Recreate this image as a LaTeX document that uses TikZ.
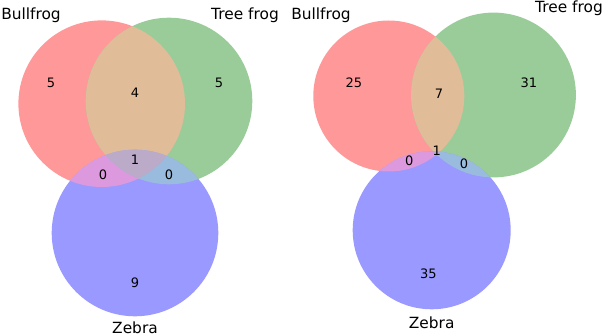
\documentclass[tikz,border=0pt]{standalone}
\usepackage{fontspec}
\setmainfont{DejaVu Sans}
\definecolor{cR}{HTML}{FF9999}
\definecolor{cG}{HTML}{99CC99}
\definecolor{cB}{HTML}{9999FF}
\definecolor{cRG}{HTML}{E0BC99}
\definecolor{cRB}{HTML}{DD99DD}
\definecolor{cGB}{HTML}{99BBDD}
\definecolor{cRGB}{HTML}{BBAAC8}
\tikzset{
  setlabel/.style={anchor=base,inner sep=0pt,font=\fontsize{15.4}{17}\selectfont},
  count/.style={anchor=base,inner sep=0pt,font=\fontsize{13}{15}\selectfont},
}
\newcommand{\venn}[9]{%
  % #1,#2 red centre; #3 red r; #4,#5 green centre; #6 green r; #7,#8 blue centre; #9 blue r
  \fill[cR] (#1,#2) circle[radius=#3];
  \fill[cG] (#4,#5) circle[radius=#6];
  \fill[cB] (#7,#8) circle[radius=#9];
  \begin{scope}\clip (#1,#2) circle[radius=#3]; \fill[cRG] (#4,#5) circle[radius=#6];\end{scope}
  \begin{scope}\clip (#1,#2) circle[radius=#3]; \fill[cRB] (#7,#8) circle[radius=#9];\end{scope}
  \begin{scope}\clip (#4,#5) circle[radius=#6]; \fill[cGB] (#7,#8) circle[radius=#9];\end{scope}
  \begin{scope}\clip (#1,#2) circle[radius=#3]; \clip (#4,#5) circle[radius=#6]; \fill[cRGB] (#7,#8) circle[radius=#9];\end{scope}
}
\begin{document}
\begin{tikzpicture}[x=1pt,y=-1pt]
\useasboundingbox (0,0) rectangle (606,336);
% left diagram
\venn{101.7}{103.7}{83.3}{169}{101}{83.3}{135}{233}{83.3}
\node[setlabel] (lA) at (31,20) {Bullfrog};
\node[setlabel] (lB) at (245,20) {Tree frog};
\node[setlabel] (lC) at (135,333.3) {Zebra};
\node[count] (l100) at (51,87.5) {5};
\node[count] (l110) at (135,98) {4};
\node[count] (l010) at (219,87.5) {5};
\node[count] (l111) at (135,164.5) {1};
\node[count] (l101) at (103,179.8) {0};
\node[count] (l011) at (169,179.8) {0};
\node[count] (l001) at (135,287.8) {9};
% right diagram
\venn{388.8}{96}{75.5}{493.5}{95}{82.4}{431.7}{230.3}{79}
\node[setlabel] (rA) at (321,20) {Bullfrog};
\node[setlabel] (rB) at (569,12.7) {Tree frog};
\node[setlabel] (rC) at (431.7,328.3) {Zebra};
\node[count] (r100) at (354,88) {25};
\node[count] (r110) at (439,99) {7};
\node[count] (r010) at (529,88) {31};
\node[count] (r111) at (436.7,156) {1};
\node[count] (r101) at (409.3,166) {0};
\node[count] (r011) at (464,168.3) {0};
\node[count] (r001) at (428.3,279) {35};
\end{tikzpicture}
\end{document}
